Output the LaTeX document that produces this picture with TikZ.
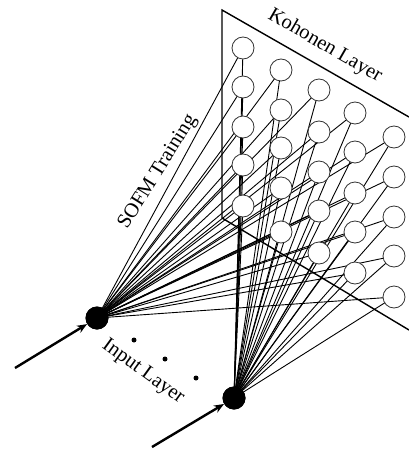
\documentclass[tikz,border=0pt]{standalone}
\usepackage{fontspec}
\setmainfont{Liberation Serif}
\usetikzlibrary{arrows.meta}
\begin{document}
\begin{tikzpicture}[x=1pt,y=-1pt,
  kcell/.style={circle,draw=black!80,fill=white,line width=0.8pt,minimum size=22pt,inner sep=0pt},
  inp/.style={circle,fill=black,minimum size=23pt,inner sep=0pt},
  sdot/.style={circle,fill=black,minimum size=5pt,inner sep=0pt},
  conn/.style={line width=0.9pt,draw=black},
  edge/.style={line width=1.4pt},
  inarrow/.style={line width=2.4pt,-{Stealth[length=10pt,width=8pt]}},
  lbl/.style={font=\fontsize{20.5}{20.5}\selectfont}]
\useasboundingbox (0,0) rectangle (409,450);
% plane
\draw[edge] (409,117) -- (222,10) -- (222,218) -- (409,330);
% kohonen cells positions
\foreach \c/\x/\ya/\yb/\yc/\yd/\ye in {1/243/48/87/127/165/206, 2/281/70/110/148/188/232, 3/319/90/132/172/211/253, 4/355/113/152/193/232/273, 5/394/137/177/217/256/297}{
  \coordinate (c\c1) at (\x,\ya);
  \coordinate (c\c2) at (\x,\yb);
  \coordinate (c\c3) at (\x,\yc);
  \coordinate (c\c4) at (\x,\yd);
  \coordinate (c\c5) at (\x,\ye);
}
\node[inp] (i1) at (97,318) {};
\node[inp] (i2) at (234,398) {};
\foreach \c in {1,...,5}{\foreach \r in {1,...,5}{
  \draw[conn] (i1.center) -- (c\c\r);
  \draw[conn] (i2.center) -- (c\c\r);
}}
\foreach \c in {1,...,5}{\foreach \r in {1,...,5}{
  \node[kcell] (k\c\r) at (c\c\r) {};
}}
\node[inp] at (i1) {};
\node[inp] at (i2) {};
\node[sdot] (d1) at (134,340) {};
\node[sdot] (d2) at (165,359) {};
\node[sdot] (d3) at (196,378) {};
\coordinate (s1) at (15,368);
\coordinate (s2) at (152,447);
\draw[inarrow] (s1) -- (i1);
\draw[inarrow] (s2) -- (i2);
\node[lbl,rotate=-30] (kl) at (325,46) {Kohonen Layer};
\node[lbl,rotate=58] (st) at (158,172) {SOFM Training};
\node[lbl,rotate=-36] (il) at (143,372) {Input Layer};
\end{tikzpicture}
\end{document}
